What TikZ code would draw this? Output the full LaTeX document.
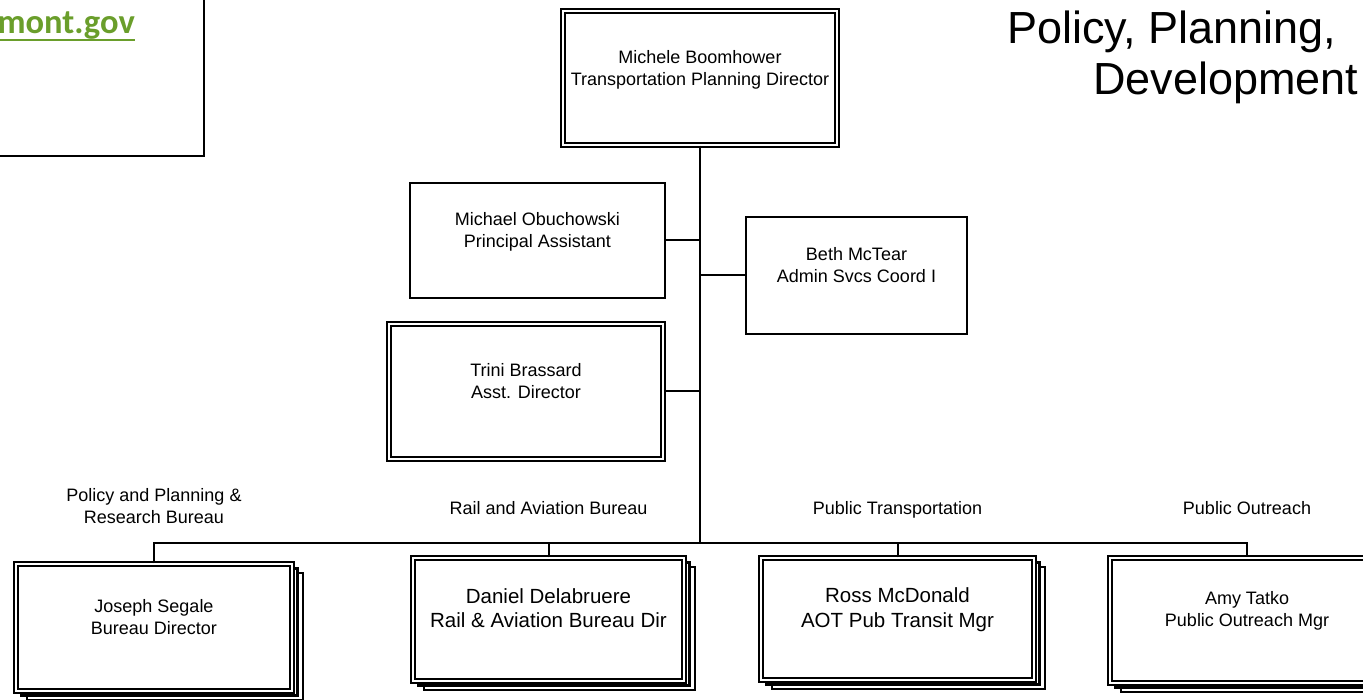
\documentclass[tikz,border=0pt]{standalone}
\usepackage{fontspec}
\setmainfont{Liberation Sans}
\newfontfamily\webfont{Carlito}
\usetikzlibrary{positioning,shadows}
\definecolor{webgreen}{HTML}{6A9E2B}

\begin{document}
\begin{tikzpicture}[
x=1pt,y=-1pt,
unit/.style={
  draw,
  fill=white,
  line width=2pt,
  align=center,
  font=\fontsize{18}{22}\selectfont,
  text depth=21pt
},
head/.style={
  unit,
  line width=1.5pt,
  double,
  double distance=2.5pt
},
bureau/.style={
  head,
  copy shadow={shadow xshift=11pt,shadow yshift=-9pt,double=black,double distance=0pt,line width=1.1pt},
  copy shadow={shadow xshift=5.5pt,shadow yshift=-4.5pt,double=black,double distance=0pt,line width=1.1pt}
},
big/.style={
  font=\fontsize{20.5}{24.5}\selectfont,
  text depth=23pt
},
lbl/.style={
  align=center,
  inner sep=0pt,
  text depth=0pt,
  font=\fontsize{18}{22}\selectfont
},
link/.style={
  line width=2pt
},
node distance=43pt
]
\useasboundingbox (0,0) rectangle (1363,700);
\clip (0,0) rectangle (1363,700);

\node[draw,line width=2pt,minimum width=260pt,minimum height=200pt,anchor=south east] (web) at (205,157) {};
\node[anchor=base east,inner sep=0pt,text=webgreen,font=\webfont\bfseries\fontsize{34.5}{40}\selectfont] (url) at (135,34)
  {mont.gov};
\draw[webgreen,line width=2pt] ([yshift=-6pt]url.base west) -- ([yshift=-6pt]url.base east);

\node[anchor=base west,inner sep=0pt,font=\fontsize{45}{54}\selectfont] (title1) at (1007,44)
  {Policy, Planning,};
\node[anchor=base west,inner sep=0pt,font=\fontsize{45}{54}\selectfont] (title2) at (1093,95)
  {Development};

\node[head,minimum width=274pt,minimum height=134pt] (dir) at (700,78)
  {Michele Boomhower\\Transportation Planning Director};
\node[unit,minimum width=255pt,minimum height=115pt] (assist) at (537.5,240.5)
  {Michael Obuchowski\\Principal Assistant};
\node[unit,minimum width=221pt,minimum height=117pt] (admin) at (856.5,275.5)
  {Beth McTear\\Admin Svcs Coord I};
\node[head,minimum width=274pt,minimum height=135pt] (deputy) at (526,391.5)
  {Trini Brassard\\Asst. Director};

\node[bureau,minimum width=276pt,minimum height=127pt] (research) at (154,627.5)
  {Joseph Segale\\Bureau Director};
\node[bureau,big,minimum width=271pt,minimum height=123pt] (rail) at (548.5,619.5)
  {Daniel Delabruere\\Rail \& Aviation Bureau Dir};
\node[bureau,big,minimum width=273pt,minimum height=122pt] (transit) at (897.5,619)
  {Ross McDonald\\AOT Pub Transit Mgr};
\node[bureau,minimum width=274pt,minimum height=125pt,text depth=24pt] (outreach) at (1247,620.5)
  {Amy Tatko\\Public Outreach Mgr};

\node[lbl,above=40pt of research] (research lbl)
  {Policy and Planning \&\\Research Bureau};
\node[lbl,above=of rail] (rail lbl)
  {Rail and Aviation Bureau};
\node[lbl,above=of transit] (transit lbl)
  {Public Transportation};
\node[lbl,above=of outreach] (outreach lbl)
  {Public Outreach};

\coordinate (bus) at (700,543);
\draw[link] (dir.south) -- (bus);
\draw[link] (assist.east) -- (assist.east -| bus);
\draw[link] (admin.west) -- (admin.west -| bus);
\draw[link] (deputy.east) -- (deputy.east -| bus);
\draw[link] (research.north) |- (bus) -| (outreach.north);
\draw[link] (rail.north) -- (rail.north |- bus);
\draw[link] (transit.north) -- (transit.north |- bus);
\end{tikzpicture}
\end{document}
